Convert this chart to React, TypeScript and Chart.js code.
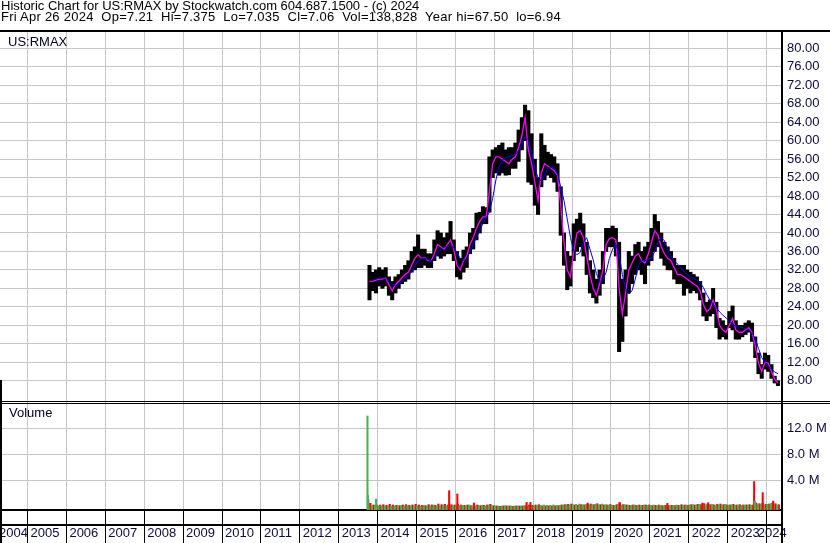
import React, { useEffect, useRef } from "react";
import { Chart, registerables } from "chart.js";

Chart.register(...registerables);

// ---------- text ----------
const headerLine1 = "Historic Chart for US:RMAX by Stockwatch.com 604.687.1500 - (c) 2024";
const headerLine2 = "Fri Apr 26 2024  Op=7.21  Hi=7.375  Lo=7.035  Cl=7.06  Vol=138,828  Year hi=67.50  lo=6.94";
const priceLabel = "US:RMAX";
const volumeLabel = "Volume";

// ---------- axes ----------
const yearLabels = ["2004", "2005", "2006", "2007", "2008", "2009", "2010", "2011", "2012", "2013", "2014", "2015", "2016", "2017", "2018", "2019", "2020", "2021", "2022", "2023", "2024"];
const gridYears = [2005, 2006, 2007, 2008, 2009, 2010, 2011, 2012, 2013, 2014, 2015, 2016, 2017, 2018, 2019, 2020, 2021, 2022, 2023, 2024];
const priceTicks = [8, 12, 16, 20, 24, 28, 32, 36, 40, 44, 48, 52, 56, 60, 64, 68, 72, 76, 80];
const volumeTicks = [4, 8, 12]; // millions

// ---------- monthly data (Oct 2013 .. Apr 2024) ----------
const firstYear = 2013;
const firstMonth = 10;

const bandLow = [
  25.5, 27.5, 27,
  28.5, 28, 28.5, 26.5, 25.5, 27, 28, 29, 29.5, 30, 31.5, 32,
  32.5, 32.5, 33, 32.5, 32.5, 34, 35, 34.5, 35, 35.5, 35.5, 34,
  30.5, 30, 31.5, 32.5, 35.5, 36.5, 38.5, 40, 42, 42, 44.5, 52,
  53, 52.5, 53, 52.5, 52.6, 54, 54, 55.5, 58, 60, 51, 50.5,
  46, 44, 50, 51.5, 52.5, 52, 51, 49, 39.5, 33, 27.7, 28.5,
  34, 36, 37, 35, 31, 27, 26, 24.8, 26.5, 29, 36, 37,
  37, 35, 14.3, 16.5, 22, 27, 29, 31, 32, 31, 29, 33,
  34, 36, 37, 34.5, 33, 32, 32, 30, 29, 29, 26.5, 28,
  27, 27.5, 27, 25.5, 22, 21, 22, 22.5, 19.5, 17, 17.5, 17,
  19.5, 19, 17, 17, 17.5, 18, 18.5, 16.5, 13, 9.5, 8.5, 10.5,
  10, 8.5, 7.5, 6.94,
];
const bandHigh = [
  33, 31.5, 32,
  32.5, 32, 32.5, 30.5, 29.5, 30.5, 31, 32, 33, 34, 36, 37,
  39.6, 36.5, 36.5, 35.5, 35.5, 38.5, 40.5, 40, 39, 40, 42.5, 38.5,
  36, 34.5, 36.3, 37, 40, 41, 44.3, 44.5, 45.7, 45.5, 56.5, 58,
  58.5, 59, 59.5, 58, 58.5, 58.5, 59.5, 62.3, 65, 67.7, 66.5, 61.5,
  56, 52, 61.5, 59, 57.5, 57, 56.5, 55, 50, 40, 36, 35,
  42, 43, 44.3, 42, 38, 34, 32, 30, 32, 36, 41, 41,
  41.5, 41, 38, 30, 32, 36, 35, 37.5, 38, 36, 37, 38,
  41, 44, 42.5, 40, 38, 37, 36, 34.5, 33, 33, 33, 32,
  31.5, 31, 30.5, 29.5, 27, 25, 25.5, 28, 25, 21.5, 21, 20,
  23, 24.2, 21, 20, 20, 20.5, 21, 20.5, 17.5, 14, 11.5, 14,
  13.5, 11.5, 9, 8,
];
const maFast = [
  29.5, 29.5, 29.8,
  30, 30, 30.3, 28.8, 27.5, 28.8, 29.5, 30.3, 31, 31.5, 33, 34.5,
  35.3, 34.5, 34.7, 34, 34, 35.5, 37.5, 37, 36.5, 37.5, 38.5, 36.5,
  33, 32, 34, 35, 37.5, 39, 41, 42.5, 43.5, 43.5, 49, 55,
  56.5, 56.5, 56, 55.5, 55, 56, 56.5, 58.5, 61, 65, 58, 55,
  51, 47, 53, 55, 54.5, 54, 53.5, 52.5, 46, 38, 32, 30.5,
  36, 40, 40.5, 39, 35, 31, 28, 26.5, 29, 32, 37.5, 38.8,
  39, 38.5, 28, 22.5, 27, 32, 33.5, 35, 35.5, 34, 33.5, 35.5,
  38, 40.5, 39.5, 37, 35.5, 34.5, 34, 32.5, 31, 31, 30.5, 30,
  29.5, 29, 28.5, 27.5, 24.5, 23, 23.5, 25.5, 23.5, 20, 19, 18.5,
  20, 21.5, 19, 18.5, 18.5, 19, 19.5, 18.5, 15.5, 11.8, 10, 12,
  11.8, 10, 8.3, 7.5,
];
const maSlow = [
  null, 29.8, 30,
  30.2, 30.3, 30.2, 29.5, 28.8, 28.7, 29, 29.5, 30.2, 30.8, 31.6, 32.7,
  34, 34.5, 34.6, 34.2, 34, 34.5, 35.5, 36.5, 37, 37, 37.3, 36.8,
  35.8, 34.5, 34, 34.5, 36, 37.5, 39, 40.5, 42, 43.3, 44.5, 47.5,
  51.5, 54.5, 55.8, 56.3, 56.5, 56.8, 57, 57.8, 59, 60.8, 60.2, 57.5,
  54, 52, 51.2, 52.5, 54, 54.3, 54, 52.8, 50, 47, 43, 39,
  36, 35.3, 35.8, 38, 39, 36.5, 34.2, 31.2, 29.5, 29.8, 31.5, 34.5,
  36.5, 37.5, 35.5, 31, 28, 26.8, 27.5, 30, 33, 34, 34, 34.3,
  34.5, 36, 38, 39, 38.3, 36.3, 35, 34, 33.3, 32.5, 31.7, 30.9,
  30.5, 30.2, 29.8, 29.2, 28.2, 26.7, 25.5, 24.5, 23.8, 22.9, 22.2, 21.6,
  21, 20.2, 19.8, 19.6, 19.5, 19.3, 19, 18.4, 17, 15, 13, 12,
  11.2, 10.5, 9.9, 9.5,
];
// typical daily volume per month, millions (up days / down days)
const volUpMonthly = [
  0.2, 0.1, 0.15,
  0.05, 0.1, 0.05, 0.1, 0.05, 0.05, 0.1, 0.1, 0.05, 0.1, 0.05, 0.05,
  0.1, 0.05, 0.15, 0.05, 0.05, 0.2, 0.1, 0.05, 0.15, 0.1, 0.05, 0.1,
  0.05, 0.1, 0.15, 0.1, 0.2, 0.1, 0.05, 0.1, 0.15, 0.05, 0.2, 0.1,
  0.05, 0.05, 0.05, 0.1, 0.05, 0.05, 0.05, 0.05, 0.05, 0.1, 0.05, 0.1,
  0.15, 0.1, 0.15, 0.2, 0.15, 0.15, 0.2, 0.15, 0.15, 0.2, 0.25, 0.2,
  0.25, 0.3, 0.35, 0.25, 0.3, 0.2, 0.25, 0.3, 0.2, 0.35, 0.25, 0.2,
  0.2, 0.15, 0.3, 0.2, 0.25, 0.2, 0.15, 0.2, 0.15, 0.1, 0.2, 0.15,
  0.15, 0.2, 0.1, 0.15, 0.1, 0.15, 0.1, 0.15, 0.2, 0.1, 0.15, 0.2,
  0.2, 0.25, 0.2, 0.3, 0.25, 0.2, 0.25, 0.3, 0.2, 0.25, 0.2, 0.3,
  0.2, 0.25, 0.15, 0.2, 0.15, 0.2, 0.2, 0.15, 0.3, 0.35, 0.3, 0.25,
  0.3, 0.4, 0.25, 0.2,
];
const volDownMonthly = [
  0.45, 0.2, 0.2,
  0.2, 0.25, 0.15, 0.3, 0.2, 0.15, 0.1, 0.2, 0.25, 0.15, 0.2, 0.3,
  0.2, 0.15, 0.1, 0.25, 0.2, 0.15, 0.35, 0.25, 0.3, 0.2, 0.25, 0.2,
  0.35, 0.2, 0.15, 0.2, 0.1, 0.25, 0.2, 0.1, 0.15, 0.2, 0.3, 0.1,
  0.05, 0, 0.05, 0.05, 0.05, 0, 0.05, 0.05, 0.05, 0.1, 0.2, 0.15,
  0.2, 0.25, 0.05, 0.05, 0.05, 0.05, 0.05, 0.1, 0.2, 0.25, 0.3, 0.35,
  0.2, 0.15, 0.25, 0.2, 0.3, 0.35, 0.25, 0.4, 0.25, 0.2, 0.2, 0.25,
  0.15, 0.25, 0.45, 0.25, 0.2, 0.15, 0.2, 0.15, 0.2, 0.15, 0.2, 0.2,
  0.1, 0.15, 0.2, 0.1, 0.15, 0.1, 0.15, 0.1, 0.15, 0.25, 0.2, 0.15,
  0.25, 0.2, 0.3, 0.25, 0.4, 0.35, 0.25, 0.2, 0.3, 0.35, 0.25, 0.2,
  0.2, 0.3, 0.2, 0.25, 0.2, 0.2, 0.25, 0.2, 0.5, 0.4, 0.45, 0.3,
  0.35, 0.5, 0.4, 0.25,
];
// single-day volume spikes (date as year fraction, millions)
const spikeUpDates = [2013.74, 2013.75, 2013.96, 2023.7];
const spikeUpVols = [13.9, 1.7, 1.1, 0.8];
const spikeDownDates = [2013.76, 2015.84, 2016.05, 2016.48, 2017.83, 2017.93, 2019.4, 2020.22, 2021.45, 2022.35, 2022.5, 2023.68, 2023.9, 2024.17];
const spikeDownVols = [1.0, 2.4, 1.9, 0.5, 0.6, 0.6, 0.5, 0.6, 0.45, 0.5, 0.55, 3.8, 2.1, 0.8];

// ---------- scale ranges ----------
const X_MIN = 2004.293;
const X_MAX = 2024.396;
const PRICE_MIN = 3.39;
const PRICE_MAX = 83.53;
const VOL_MIN = -0.57;
const VOL_MAX = 16.05;

const FONT_FAMILY = '"Liberation Sans", Arial, sans-serif';
const TICK_FONT = { family: FONT_FAMILY, size: 13 };
const TICK_COLOR = "#0c0c3c";
const GRID_COLOR = "#c6c6c6";

const monthX = (i: number) => firstYear + (firstMonth - 1 + i + 0.5) / 12;

const zeroPad = (s: any) => {
  s.paddingLeft = 0;
  s.paddingRight = 0;
  s.paddingTop = 0;
  s.paddingBottom = 0;
};

const framePlugin = {
  id: "stockwatchFrame",
  afterDraw(chart: any) {
    const { ctx, chartArea, width, height } = chart;
    const sep = Math.round(chart.scales.y.bottom);
    ctx.save();
    ctx.fillStyle = "#000";
    ctx.fillRect(0, chartArea.top - 2, width, 2);
    ctx.fillRect(0, sep - 1, width, 1);
    ctx.fillRect(0, sep + 1, width, 1);
    ctx.fillRect(chartArea.right - 1, chartArea.top - 2, 2, height - chartArea.top + 2);
    ctx.fillRect(0, sep - 22, 2, height - sep + 22);
    ctx.restore();
  },
};

export default function App() {
  const canvasRef = useRef<HTMLCanvasElement>(null);

  useEffect(() => {
    document.body.style.margin = "0";
    const canvas = canvasRef.current;
    if (!canvas) return;

    const band = bandLow.map((lo, i) => ({ x: monthX(i), y: [lo, bandHigh[i]] }));
    const fast = maFast.map((v, i) => ({ x: monthX(i), y: v }));
    const slow = maSlow.map((v, i) => ({ x: monthX(i), y: v }));
    const volUp = volUpMonthly.map((v, i) => ({ x: monthX(i) - 0.25 / 12, y: v }));
    const volDown = volDownMonthly.map((v, i) => ({ x: monthX(i) + 0.25 / 12, y: v }));
    const spUp = spikeUpDates.map((d, i) => ({ x: d, y: spikeUpVols[i] }));
    const spDown = spikeDownDates.map((d, i) => ({ x: d, y: spikeDownVols[i] }));

    const chart = new Chart(canvas, {
      type: "bar",
      data: {
        datasets: [
          { type: "line", data: slow, xAxisID: "x", yAxisID: "y", borderColor: "#0000ff", borderWidth: 1, pointRadius: 0, tension: 0, order: 0 } as any,
          { type: "line", data: fast, xAxisID: "x", yAxisID: "y", borderColor: "#ff00ff", borderWidth: 1.3, pointRadius: 0, tension: 0, order: 1 } as any,
          { type: "bar", data: band, xAxisID: "x", yAxisID: "y", backgroundColor: "#000000", barThickness: 3.4, stack: "all", borderWidth: 0, order: 2 } as any,
          { type: "bar", data: spUp, xAxisID: "x", yAxisID: "yv", backgroundColor: "#4caf50", barThickness: 1.4, stack: "all", base: VOL_MIN, borderWidth: 0, order: 3 } as any,
          { type: "bar", data: spDown, xAxisID: "x", yAxisID: "yv", backgroundColor: "#ff0000", barThickness: 1.4, stack: "all", base: VOL_MIN, borderWidth: 0, order: 3 } as any,
          { type: "bar", data: volUp, xAxisID: "x", yAxisID: "yv", backgroundColor: "#4caf50", barThickness: 1.6, stack: "all", base: VOL_MIN, borderWidth: 0, order: 4 } as any,
          { type: "bar", data: volDown, xAxisID: "x", yAxisID: "yv", backgroundColor: "#ff0000", barThickness: 1.6, stack: "all", base: VOL_MIN, borderWidth: 0, order: 4 } as any,
        ],
      },
      options: {
        responsive: false,
        animation: false,
        devicePixelRatio: 1,
        events: [],
        layout: { padding: { top: 32, right: 0, bottom: 0, left: 0 } },
        plugins: {
          legend: { display: false },
          tooltip: { enabled: false },
          title: { display: false },
        },
        scales: {
          x: {
            type: "linear",
            position: "bottom",
            weight: 0,
            min: X_MIN,
            max: X_MAX,
            offset: false,
            afterBuildTicks: (s: any) => {
              s.ticks = gridYears.map((v) => ({ value: v }));
            },
            ticks: { display: false },
            grid: { offset: false, color: GRID_COLOR, lineWidth: 1, drawTicks: true, tickLength: 33, tickColor: "#000000", tickWidth: 1 },
            border: { display: true, color: "#000000", width: 2 },
            afterFit: (s: any) => {
              s.height = 15;
              zeroPad(s);
            },
          },
          xl: {
            type: "linear",
            position: "bottom",
            weight: 1,
            min: X_MIN,
            max: X_MAX,
            offset: false,
            afterBuildTicks: (s: any) => {
              s.ticks = yearLabels.map((l) => ({ value: Math.min(Math.max(Number(l), X_MIN - 0.1), X_MAX - 0.7) }));
            },
            ticks: {
              display: true,
              autoSkip: false,
              maxRotation: 0,
              minRotation: 0,
              align: "start",
              labelOffset: 3,
              padding: 1,
              font: TICK_FONT,
              color: TICK_COLOR,
              callback: (_v: any, i: number) => yearLabels[i],
            },
            grid: { display: false, drawTicks: false, offset: false },
            border: { display: true, color: "#000000", width: 2 },
            afterFit: (s: any) => {
              s.height = 18;
              zeroPad(s);
            },
          },
          y: {
            type: "linear",
            position: "right",
            stack: "panels",
            stackWeight: 370,
            stacked: false,
            beginAtZero: false,
            min: PRICE_MIN,
            max: PRICE_MAX,
            afterBuildTicks: (s: any) => {
              s.ticks = priceTicks.map((v) => ({ value: v }));
            },
            ticks: { autoSkip: false, padding: 5, font: TICK_FONT, color: TICK_COLOR, callback: (v: any) => Number(v).toFixed(2) },
            grid: { color: GRID_COLOR, lineWidth: 1, drawTicks: false },
            border: { display: false },
            afterFit: (s: any) => {
              s.width = 48;
              zeroPad(s);
            },
          },
          yv: {
            type: "linear",
            position: "right",
            stack: "panels",
            stackWeight: 108,
            stacked: false,
            beginAtZero: false,
            min: VOL_MIN,
            max: VOL_MAX,
            afterBuildTicks: (s: any) => {
              s.ticks = volumeTicks.map((v) => ({ value: v }));
            },
            ticks: { autoSkip: false, padding: 5, font: TICK_FONT, color: TICK_COLOR, callback: (v: any) => `${Number(v).toFixed(1)} M` },
            grid: { color: GRID_COLOR, lineWidth: 1, drawTicks: false },
            border: { display: false },
            afterFit: (s: any) => {
              s.width = 48;
              zeroPad(s);
            },
          },
        },
      } as any,
      plugins: [framePlugin],
    });

    return () => chart.destroy();
  }, []);

  const textBase: React.CSSProperties = {
    position: "absolute",
    fontFamily: FONT_FAMILY,
    fontSize: 13,
    lineHeight: "12px",
    whiteSpace: "pre",
    color: "#000000",
  };

  return (
    <div style={{ position: "relative", width: 830, height: 543, overflow: "hidden", background: "#ffffff" }}>
      <canvas ref={canvasRef} width={830} height={543} style={{ position: "absolute", left: 0, top: 0, width: 830, height: 543 }} />
      <div style={{ ...textBase, left: 1, top: 0 }}>{headerLine1}</div>
      <div style={{ ...textBase, left: 1, top: 11, letterSpacing: "0.25px" }}>{headerLine2}</div>
      <div style={{ ...textBase, left: 8, top: 36, color: "#000020" }}>{priceLabel}</div>
      <div style={{ ...textBase, left: 9, top: 407, color: "#000020" }}>{volumeLabel}</div>
    </div>
  );
}
